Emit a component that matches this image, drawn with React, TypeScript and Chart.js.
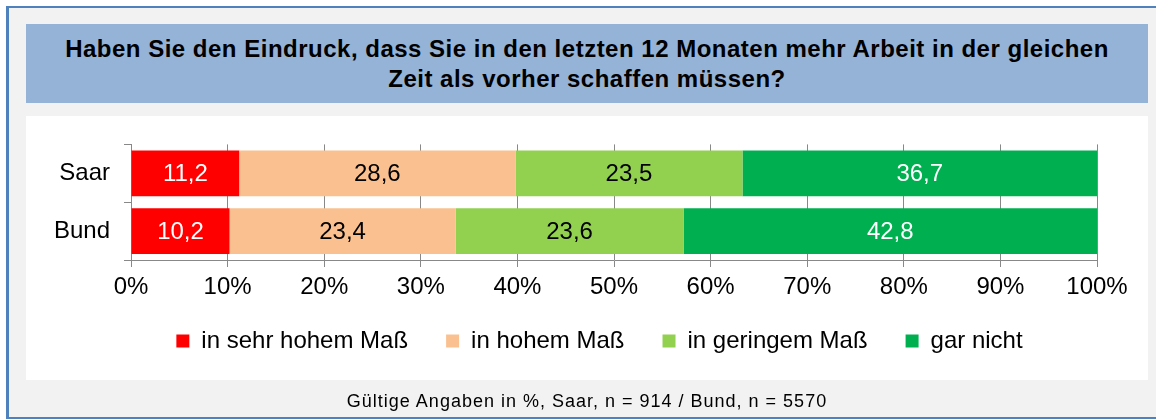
import React, { useEffect, useRef } from "react";
import { Chart, registerables } from "chart.js";

Chart.register(...registerables);

const titleLines = [
  "Haben Sie den Eindruck, dass Sie in den letzten 12 Monaten mehr Arbeit in der gleichen",
  "Zeit als vorher schaffen müssen?",
];
const footer = "Gültige Angaben in %, Saar, n = 914 / Bund, n = 5570";
const categories = ["Saar", "Bund"];
const seriesNames = ["in sehr hohem Maß", "in hohem Maß", "in geringem Maß", "gar nicht"];
const sehrHoch = [11.2, 10.2];
const hoch = [28.6, 23.4];
const gering = [23.5, 23.6];
const garNicht = [36.7, 42.8];
const xTicks = [0, 10, 20, 30, 40, 50, 60, 70, 80, 90, 100];

const colors = ["#FF0000", "#FAC090", "#92D050", "#00B050"];
const labelColors = ["#FFFFFF", "#000000", "#000000", "#FFFFFF"];
const FONT = "'Liberation Sans', Arial, sans-serif";

const valueLabels = {
  id: "valueLabels",
  afterDatasetsDraw(chart: any) {
    const ctx = chart.ctx;
    ctx.save();
    ctx.font = `24px ${FONT}`;
    ctx.textAlign = "center";
    ctx.textBaseline = "middle";
    chart.data.datasets.forEach((ds: any, i: number) => {
      const meta = chart.getDatasetMeta(i);
      meta.data.forEach((bar: any, j: number) => {
        const v = ds.data[j];
        const p = bar.getProps(["x", "y", "base"], true);
        const cx = (p.x + p.base) / 2;
        ctx.fillStyle = labelColors[i];
        ctx.fillText(v.toFixed(1).replace(".", ","), cx, p.y + 1);
      });
    });
    ctx.restore();
  },
};

const legendShift = {
  id: "legendShift",
  afterLayout(chart: any) {
    const l = chart.legend;
    if (l) {
      l.top -= 15;
      l.bottom -= 15;
      l.left += 38;
      l.right += 38;
    }
  },
};

export default function App() {
  const ref = useRef<HTMLCanvasElement | null>(null);
  useEffect(() => {
    document.body.style.margin = "0";
    const all = [sehrHoch, hoch, gering, garNicht];
    const chart = new Chart(ref.current!, {
      type: "bar",
      data: {
        labels: categories,
        datasets: seriesNames.map((n, i) => ({
          label: n,
          data: all[i],
          backgroundColor: colors[i],
          borderWidth: 0,
          categoryPercentage: 1,
          barPercentage: 0.79,
        })),
      },
      options: {
        indexAxis: "y",
        animation: false,
        responsive: false,
        maintainAspectRatio: false,
        layout: { padding: { top: 28, right: 51, left: 0, bottom: 2 } },
        font: { family: FONT },
        scales: {
          x: {
            stacked: true,
            min: 0,
            max: 100,
            afterBuildTicks(scale: any) {
              scale.ticks = xTicks.map((v) => ({ value: v }));
            },
            afterFit(scale: any) {
              scale.height = 46;
            },
            ticks: {
              color: "#000",
              font: { family: FONT, size: 24 },
              padding: 6,
              callback: (v: any) => v + "%",
            },
            grid: { color: "#888888", tickLength: 7, lineWidth: 1 },
            border: { color: "#888888", width: 1 },
          },
          y: {
            stacked: true,
            afterFit(scale: any) {
              scale.width = 105;
            },
            ticks: { color: "#000", font: { family: FONT, size: 24 }, padding: 14 },
            grid: { drawOnChartArea: false, color: "#888888", tickLength: 7, offset: true },
            border: { color: "#888888", width: 1 },
          },
        },
        plugins: {
          legend: {
            position: "bottom",
            labels: {
              boxWidth: 13,
              boxHeight: 13,
              padding: 38,
              color: "#000",
              font: { family: FONT, size: 24 },
            },
          },
          tooltip: { enabled: false },
        },
      },
      plugins: [valueLabels, legendShift],
    } as any);
    return () => chart.destroy();
  }, []);

  return (
    <div
      style={{
        position: "fixed",
        left: 0,
        top: 0,
        width: 1156,
        height: 419,
        background: "#FFFFFF",
        fontFamily: FONT,
      }}
    >
      <div
        style={{
          position: "absolute",
          left: 6,
          top: 6,
          width: 1150,
          height: 413,
          background: "#F2F2F2",
          borderLeft: "3px solid #4F81BD",
          borderTop: "2px solid #4F81BD",
          borderBottom: "2px solid #4F81BD",
          boxSizing: "border-box",
        }}
      />
      <div
        style={{
          position: "absolute",
          left: 26,
          top: 24,
          width: 1122,
          height: 79,
          background: "#95B3D7",
          display: "flex",
          flexDirection: "column",
          justifyContent: "center",
          alignItems: "center",
          fontWeight: "bold",
          fontSize: 24,
          letterSpacing: "0.5px",
          lineHeight: "30px",
          color: "#000",
        }}
      >
        {titleLines.map((t, i) => (
          <div key={i}>{t}</div>
        ))}
      </div>
      <div
        style={{
          position: "absolute",
          left: 26,
          top: 116,
          width: 1122,
          height: 264,
          background: "#FFFFFF",
        }}
      >
        <canvas ref={ref} width={1122} height={264} style={{ display: "block" }} />
      </div>
      <div
        style={{
          position: "absolute",
          left: 0,
          top: 391,
          width: 1174,
          textAlign: "center",
          fontSize: 18,
          letterSpacing: "1px",
          color: "#000",
        }}
      >
        {footer}
      </div>
    </div>
  );
}
